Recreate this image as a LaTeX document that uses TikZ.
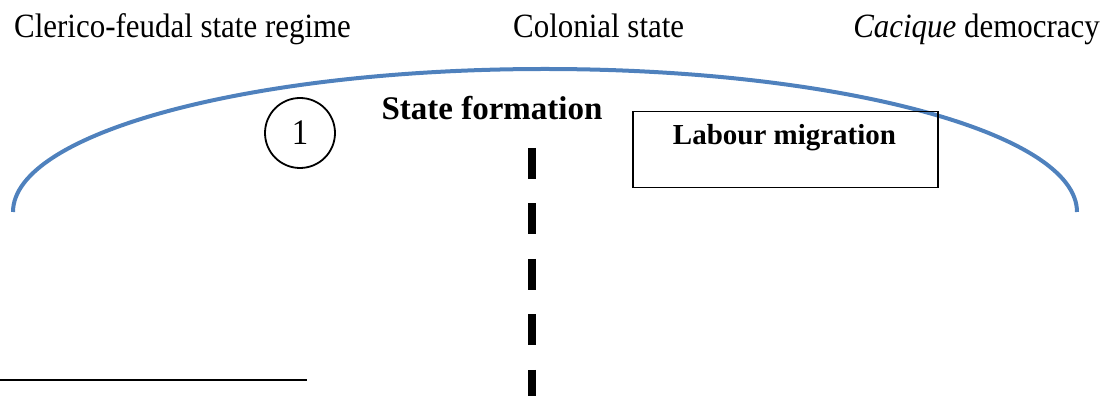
\documentclass[tikz,border=0pt]{standalone}
\usepackage{fontspec}
\setmainfont{Liberation Serif}[FakeStretch=0.91]
\newfontfamily\boldserif{Liberation Serif}[BoldFont={* Bold}]
\definecolor{arcblue}{RGB}{79,129,189}
\tikzset{
  toplabel/.style={inner sep=0pt, font=\fontsize{34}{37}\selectfont},
  boldlabel/.style={inner sep=0pt},
  arcline/.style={draw=arcblue, line width=4pt},
  dividerline/.style={line width=8pt, dash pattern=on 31pt off 24.5pt},
}
\begin{document}
\begin{tikzpicture}[x=1pt,y=1pt]
\useasboundingbox (0,0) rectangle (1112,396);
% top labels
\node[toplabel, anchor=base west] (cler) at (14,358) {Clerico-feudal state regime};
\node[toplabel, anchor=base west] (colo) at (513,358) {Colonial state};
\node[toplabel, anchor=base east] (caci) at (1100,358) {\textit{Cacique} democracy};
% blue arc
\coordinate (arcstart) at (13,184);
\draw[arcline] (arcstart) arc[start angle=180, end angle=0, x radius=532, y radius=143];
% circle with 1
\node[draw, circle, line width=1.8pt, minimum size=70pt, inner sep=0pt,
      font=\fontsize{36}{38}\selectfont] (one) at (300,263) {1};
% state formation
\node[boldlabel, anchor=base, font=\boldserif\bfseries\fontsize{33}{36}\selectfont] (sf) at (492,276) {State formation};
% labour migration box
\node[draw, line width=1.5pt, minimum width=305pt, minimum height=76pt, inner sep=0pt, anchor=north west] (box) at (632,285) {};
\node[boldlabel, anchor=base, font=\boldserif\bfseries\fontsize{29}{32}\selectfont] (lab) at (784.5,251) {Labour migration};
% dashed divider
\coordinate (dtop) at (532,248);
\coordinate (dbot) at (532,0);
\draw[dividerline] (dtop) -- (dbot);
% bottom rule
\coordinate (ruleL) at (0,16);
\coordinate (ruleR) at (307,16);
\draw[line width=1.5pt] (ruleL) -- (ruleR);
\end{tikzpicture}
\end{document}
